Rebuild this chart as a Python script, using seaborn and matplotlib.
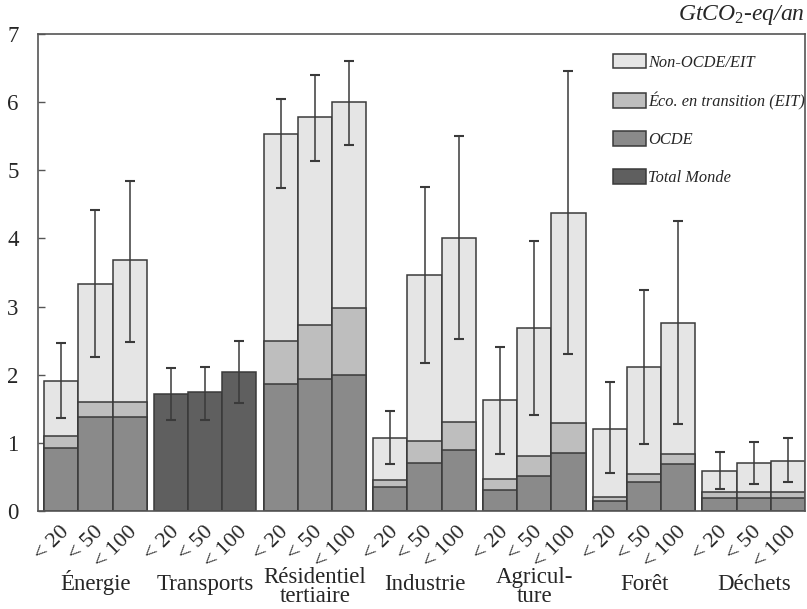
import numpy as np
import pandas as pd
import matplotlib
matplotlib.use("Agg")
import matplotlib.pyplot as plt
import seaborn as sns
from matplotlib.patches import Patch
from matplotlib.transforms import blended_transform_factory, ScaledTranslation

nan = np.nan

# Sectors and carbon-price levels (USD/tCO2-eq)
sectors = ["Énergie", "Transports", "Résidentiel\ntertiaire", "Industrie",
           "Agricul-\nture", "Forêt", "Déchets"]
price_levels = ["< 20", "< 50", "< 100"]

# Mitigation potential by region group, GtCO2-eq/an (one row per sector)
ocde = [
    [0.92, 1.38, 1.38],
    [nan, nan, nan],
    [1.87, 1.93, 1.99],
    [0.35, 0.70, 0.89],
    [0.31, 0.52, 0.85],
    [0.15, 0.43, 0.69],
    [0.19, 0.19, 0.19],
]
eit = [
    [0.18, 0.22, 0.22],
    [nan, nan, nan],
    [0.62, 0.80, 0.99],
    [0.10, 0.33, 0.41],
    [0.16, 0.28, 0.44],
    [0.06, 0.11, 0.15],
    [0.09, 0.09, 0.09],
]
non_ocde = [
    [0.81, 1.73, 2.08],
    [nan, nan, nan],
    [3.04, 3.05, 3.02],
    [0.62, 2.44, 2.71],
    [1.16, 1.88, 3.08],
    [1.00, 1.58, 1.92],
    [0.31, 0.42, 0.45],
]
# Transport is only available as a world total
total_monde = [
    [nan, nan, nan],
    [1.72, 1.74, 2.04],
    [nan, nan, nan],
    [nan, nan, nan],
    [nan, nan, nan],
    [nan, nan, nan],
    [nan, nan, nan],
]
# Uncertainty ranges of the world potential
err_low = [
    [1.36, 2.26, 2.48],
    [1.33, 1.33, 1.59],
    [4.74, 5.13, 5.37],
    [0.69, 2.17, 2.52],
    [0.84, 1.41, 2.31],
    [0.56, 0.98, 1.28],
    [0.33, 0.40, 0.42],
]
err_high = [
    [2.46, 4.41, 4.85],
    [2.10, 2.12, 2.50],
    [6.05, 6.40, 6.61],
    [1.47, 4.75, 5.51],
    [2.40, 3.96, 6.46],
    [1.89, 3.25, 4.25],
    [0.86, 1.01, 1.07],
]

legend_labels = ["Non-OCDE/EIT", "Éco. en transition (EIT)", "OCDE", "Total Monde"]
colors = ["#e5e5e5", "#bebebe", "#8a8a8a", "#5f5f5f"]
EDGE = "#3a3a3a"
GROUP_GAP = 0.21

# Long-form table: one row per (sector, price level)
rows = []
for s, sector in enumerate(sectors):
    for i, lvl in enumerate(price_levels):
        o, e, n = ocde[s][i], eit[s][i], non_ocde[s][i]
        world = total_monde[s][i]
        rows.append({
            "sector": sector,
            "level": lvl,
            "pos": s * (3 + GROUP_GAP) + i,
            "ocde": o,
            "ocde_eit": o + e,
            "total": world if np.isnan(o) else o + e + n,
            "lo": err_low[s][i],
            "hi": err_high[s][i],
            "world_only": np.isnan(o),
        })
df = pd.DataFrame(rows)
regional = df[~df["world_only"]]
world = df[df["world_only"]]

sns.set_theme(style="white")
plt.rcParams["font.family"] = ["Liberation Serif", "DejaVu Serif"]
plt.rcParams["mathtext.fontset"] = "custom"
plt.rcParams["mathtext.rm"] = "Liberation Serif"
plt.rcParams["mathtext.it"] = "Liberation Serif:italic"

fig = plt.figure(figsize=(8.07, 6.09), dpi=100)
ax = fig.add_axes([38 / 807, 1 - 511 / 609, 767 / 807, 477 / 609])

bar_kw = dict(x="pos", native_scale=True, width=1, saturation=1,
              edgecolor=EDGE, linewidth=1.1, errorbar=None, ax=ax)
sns.barplot(data=regional, y="total", color=colors[0], **bar_kw)
sns.barplot(data=regional, y="ocde_eit", color=colors[1], **bar_kw)
sns.barplot(data=regional, y="ocde", color=colors[2], **bar_kw)
sns.barplot(data=world, y="total", color=colors[3], **bar_kw)

ax.errorbar(df["pos"], (df["lo"] + df["hi"]) / 2, yerr=(df["hi"] - df["lo"]) / 2,
            fmt="none", ecolor="#3a3a3a", elinewidth=1.1, capsize=3.5,
            capthick=1.5, zorder=5)

ax.set_xlim(-0.68, 6 * (3 + GROUP_GAP) + 2.5)
ax.set_ylim(0, 7)
ax.set_xlabel("")
ax.set_ylabel("")

ax.set_yticks(range(8))
ax.set_yticklabels([str(v) for v in range(8)], fontsize=16.5)
ax.tick_params(axis="y", direction="in", length=5, width=1, color="#555555",
               pad=14, left=True)

ax.set_xticks(df["pos"])
ax.set_xticklabels(df["level"], fontsize=16, rotation=45, ha="right",
                   va="center", rotation_mode="anchor")
ax.tick_params(axis="x", length=0, pad=11)
shift = ScaledTranslation(5 / 100, -3 / 100, fig.dpi_scale_trans)
for lab in ax.get_xticklabels():
    lab.set_transform(lab.get_transform() + shift)

for sp in ax.spines.values():
    sp.set_visible(True)
    sp.set_color("#555555")
    sp.set_linewidth(1.2)

# Sector names under each group of bars (baseline of the last line)
trans = blended_transform_factory(ax.transData, ax.transAxes)
for s, sector in enumerate(sectors):
    center = s * (3 + GROUP_GAP) + 1
    two_lines = "\n" in sector
    y = (511 - (602 if two_lines else 590)) / 477
    ax.text(center, y, sector, transform=trans, ha="center", va="baseline",
            fontsize=16.5, linespacing=0.86, multialignment="center")

# Unit label
fig.text(805 / 807, 1 - 20 / 609, "GtCO$_2$-eq/an", ha="right", va="baseline",
         fontsize=17, fontstyle="italic")

handles = [Patch(facecolor=c, edgecolor=EDGE, linewidth=1.1, label=l)
           for c, l in zip(colors, legend_labels)]
ax.legend(handles=handles, loc="upper left",
          bbox_to_anchor=(613 / 807, 1 - 54 / 609), bbox_transform=fig.transFigure,
          frameon=False, prop={"family": "Liberation Serif", "style": "italic", "size": 11.8},
          handlelength=2.0, handleheight=0.95, handletextpad=0.15,
          labelspacing=1.3, borderpad=0, borderaxespad=0)

fig.savefig("out.png", dpi=100)
